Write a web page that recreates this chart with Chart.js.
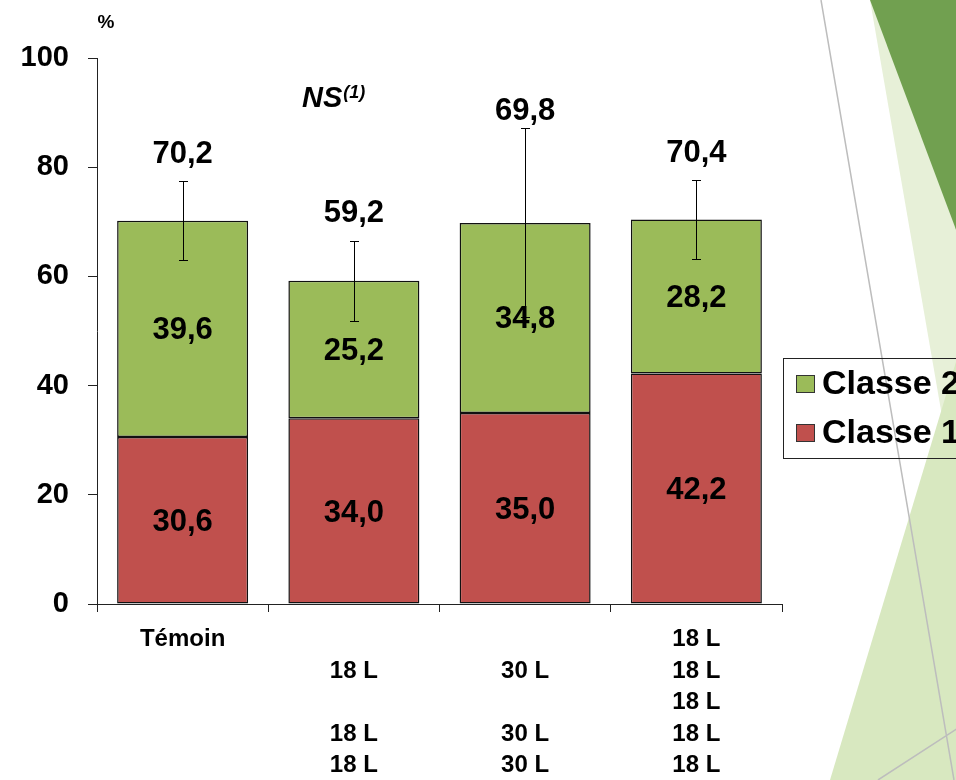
<!DOCTYPE html>
<html>
<head>
<meta charset="utf-8">
<script src="https://cdn.jsdelivr.net/npm/chart.js@4.4.1/dist/chart.umd.min.js"></script>
<style>
  html, body { margin: 0; padding: 0; background: #ffffff; }
  #wrap { position: relative; width: 956px; height: 780px; overflow: hidden; }
  canvas { display: block; }
</style>
</head>
<body>
<div id="wrap"><canvas id="c" width="956" height="780"></canvas></div>
<script>
// ---- data ----
const categories = [
  ["Témoin", "", "", "", ""],
  ["", "18 L", "", "18 L", "18 L"],
  ["", "30 L", "", "30 L", "30 L"],
  ["18 L", "18 L", "18 L", "18 L", "18 L"]
];
const classe1 = [30.6, 34.0, 35.0, 42.2];
const classe2 = [39.6, 25.2, 34.8, 28.2];
const errorHalf = [7.2, 7.3, 17.3, 7.3];
const yTicks = [0, 20, 40, 60, 80, 100];
const seriesNames = ["Classe 1", "Classe 2"];
const unitLabel = "%";
const noteMain = "NS";
const noteSup = "(1)";

// ---- styles ----
const FONT = "'Liberation Sans', Arial, Helvetica, sans-serif";
const RED = "#C0504D";
const GREEN = "#9BBB59";
const totalLabelGap = [27, 27, 17, 26];

const fmt = v => v.toFixed(1).replace(".", ",");

const backgroundPlugin = {
  id: "slideBackground",
  beforeDraw(chart) {
    const ctx = chart.ctx;
    ctx.save();
    ctx.fillStyle = "#ffffff";
    ctx.fillRect(0, 0, chart.width, chart.height);
    // pale band
    ctx.fillStyle = "#E7F0D8";
    ctx.beginPath();
    ctx.moveTo(870, 0); ctx.lineTo(960, 0); ctx.lineTo(960, 520); ctx.closePath();
    ctx.fill();
    // medium light triangle
    ctx.fillStyle = "#D8E8C0";
    ctx.beginPath();
    ctx.moveTo(830, 780); ctx.lineTo(958, 355); ctx.lineTo(958, 780); ctx.closePath();
    ctx.fill();
    // dark triangle
    ctx.fillStyle = "#71A050";
    ctx.beginPath();
    ctx.moveTo(870, 0); ctx.lineTo(958, 0); ctx.lineTo(958, 235); ctx.closePath();
    ctx.fill();
    // thin grey lines
    ctx.strokeStyle = "#BDBDBD";
    ctx.lineWidth = 1.5;
    ctx.beginPath();
    ctx.moveTo(821, 0); ctx.lineTo(954, 780);
    ctx.moveTo(878, 780); ctx.lineTo(958, 728);
    ctx.stroke();
    ctx.restore();
  }
};

const annotatePlugin = {
  id: "annotate",
  afterDatasetsDraw(chart) {
    const ctx = chart.ctx;
    const y = chart.scales.y;
    const metaTop = chart.getDatasetMeta(1);
    ctx.save();
    // error bars
    ctx.strokeStyle = "#000";
    ctx.lineWidth = 1;
    categories.forEach((c, i) => {
      const total = classe1[i] + classe2[i];
      const x = Math.round(metaTop.data[i].x) + 0.5;
      const yt = Math.round(y.getPixelForValue(total + errorHalf[i])) + 0.5;
      const yb = Math.round(y.getPixelForValue(total - errorHalf[i])) + 0.5;
      ctx.beginPath();
      ctx.moveTo(x, yt); ctx.lineTo(x, yb);
      ctx.moveTo(x - 4.5, yt); ctx.lineTo(x + 4.5, yt);
      ctx.moveTo(x - 4.5, yb); ctx.lineTo(x + 4.5, yb);
      ctx.stroke();
    });
    // value labels
    ctx.fillStyle = "#000";
    ctx.textAlign = "center";
    ctx.textBaseline = "middle";
    ctx.font = "bold 31px " + FONT;
    categories.forEach((c, i) => {
      const total = classe1[i] + classe2[i];
      const x = metaTop.data[i].x;
      const yr1 = (y.getPixelForValue(0) + y.getPixelForValue(classe1[i])) / 2;
      const yr2 = (y.getPixelForValue(classe1[i]) + y.getPixelForValue(total)) / 2;
      ctx.fillText(fmt(classe1[i]), x, yr1 + 2);
      ctx.fillText(fmt(classe2[i]), x, yr2 + 2);
      const yt = y.getPixelForValue(total + errorHalf[i]);
      ctx.fillText(fmt(total), x, yt - totalLabelGap[i]);
    });
    ctx.restore();
  },
  afterDraw(chart) {
    const ctx = chart.ctx;
    ctx.save();
    ctx.fillStyle = "#000";
    // unit label
    ctx.font = "bold 19px " + FONT;
    ctx.textAlign = "center";
    ctx.textBaseline = "middle";
    ctx.fillText(unitLabel, 106, 23);
    // NS(1)
    ctx.textAlign = "left";
    ctx.textBaseline = "alphabetic";
    ctx.font = "italic bold 29px " + FONT;
    ctx.fillText(noteMain, 302, 107);
    const w = ctx.measureText(noteMain).width;
    ctx.font = "italic bold 18px " + FONT;
    ctx.fillText(noteSup, 302 + w + 1, 98);
    // legend
    const lx = 783, ly = 358.5, lw = 200, lh = 100;
    ctx.strokeStyle = "#222";
    ctx.lineWidth = 1;
    ctx.strokeRect(lx + 0.5, ly, lw, lh);
    const entries = [
      { name: seriesNames[1], color: GREEN, cy: 384 },
      { name: seriesNames[0], color: RED, cy: 433 }
    ];
    ctx.font = "bold 34px " + FONT;
    ctx.textBaseline = "middle";
    entries.forEach(e => {
      ctx.fillStyle = e.color;
      ctx.fillRect(796, e.cy - 9, 18, 17);
      ctx.strokeStyle = "#333";
      ctx.strokeRect(796.5, e.cy - 8.5, 18, 17);
      ctx.fillStyle = "#000";
      ctx.fillText(e.name, 822, e.cy + 1);
    });
    ctx.restore();
  }
};

new Chart(document.getElementById("c"), {
  type: "bar",
  data: {
    labels: categories,
    datasets: [
      { label: seriesNames[0], data: classe1, backgroundColor: RED, borderColor: "#111", borderWidth: 1.5, borderSkipped: false },
      { label: seriesNames[1], data: classe2, backgroundColor: GREEN, borderColor: "#111", borderWidth: 1.5, borderSkipped: false }
    ]
  },
  options: {
    responsive: false,
    animation: false,
    devicePixelRatio: 1,
    layout: { padding: { left: 0, right: 174, top: 58, bottom: 0 } },
    datasets: { bar: { barPercentage: 0.765, categoryPercentage: 1 } },
    plugins: {
      legend: { display: false },
      tooltip: { enabled: false }
    },
    scales: {
      x: {
        stacked: true,
        grid: { display: true, drawOnChartArea: false, drawTicks: true, tickLength: 8, color: "#222", offset: true },
        border: { display: true, color: "#222", width: 1 },
        ticks: {
          color: "#000",
          padding: 12,
          maxRotation: 0,
          autoSkip: false,
          font: { family: FONT, size: 24, weight: "bold", lineHeight: 1.31 }
        },
        afterFit(scale) { scale.height = 176; }
      },
      y: {
        stacked: true,
        min: 0,
        max: 100,
        afterBuildTicks(scale) { scale.ticks = yTicks.map(v => ({ value: v })); },
        grid: { display: true, drawOnChartArea: false, drawTicks: true, tickLength: 9, color: "#222" },
        border: { display: true, color: "#222", width: 1 },
        ticks: {
          color: "#000",
          padding: 19,
          font: { family: FONT, size: 29, weight: "bold" }
        },
        afterFit(scale) { scale.width = 97; }
      }
    }
  },
  plugins: [backgroundPlugin, annotatePlugin]
});
</script>
</body>
</html>
